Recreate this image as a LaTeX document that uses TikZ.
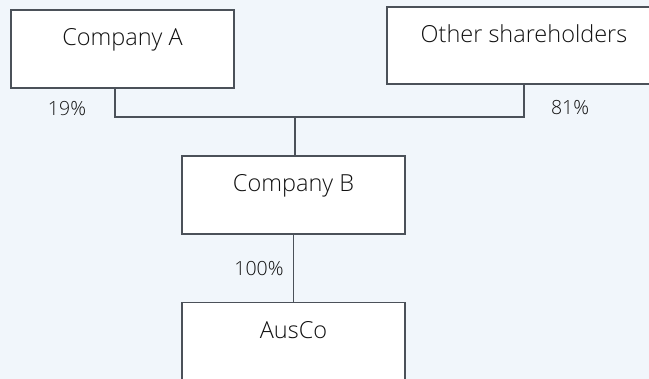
\documentclass[tikz,border=0pt]{standalone}
\usepackage{fontspec}
\setmainfont{Open Sans}[UprightFont={* Light}]
\usepackage{tikz}
\usetikzlibrary{positioning}
\usetikzlibrary{calc}
\definecolor{bgblue}{HTML}{F1F6FB}
\definecolor{linegray}{HTML}{4B5159}
\definecolor{inkgray}{HTML}{111111}

\begin{document}
\begin{tikzpicture}[x=1pt,y=-1pt,
        box/.style={draw=linegray,line width=1.6pt,fill=white,inner sep=0pt,
            minimum width=223pt,text height=36pt,text depth=42pt,
            font=\fontsize{23.5}{26}\selectfont,text=inkgray},
        lbl/.style={font=\fontsize{19.5}{22}\selectfont,text=inkgray,inner sep=0pt},
        link/.style={draw=linegray,line width=1.6pt}]
    \fill[bgblue] (0,0) rectangle (649,379);
    \clip (0,0) rectangle (649,379);

    \node (compA) [box]                              at (122.5,49)  {Company A};
    \node (others)[box,minimum width=274pt,
                   text height=35.5pt,text depth=41.5pt] at (524,45.5) {Other shareholders};
    \node (compB) [box]                              at (293.5,195) {Company B};
    \node (ausco) [box,below=67pt of compB]                         {AusCo};

    \coordinate (jA) at (115,117);
    \coordinate (jO) at (others.south |- jA);
    \coordinate (jB) at (295,117);

    \draw[link] (compA.south -| jA) -- (jA) -- (jO) -- (others.south);
    \draw[link] (jB) -- (jB |- compB.north);
    \draw[link] (compB.south) -- (ausco.north);

    % shareholdings
    \node (pA) [lbl] at (67,109)  {19\%};
    \node (pO) [lbl] at (570,108) {81\%};
    \node (pB) [lbl] at (259,269) {100\%};
\end{tikzpicture}
\end{document}
